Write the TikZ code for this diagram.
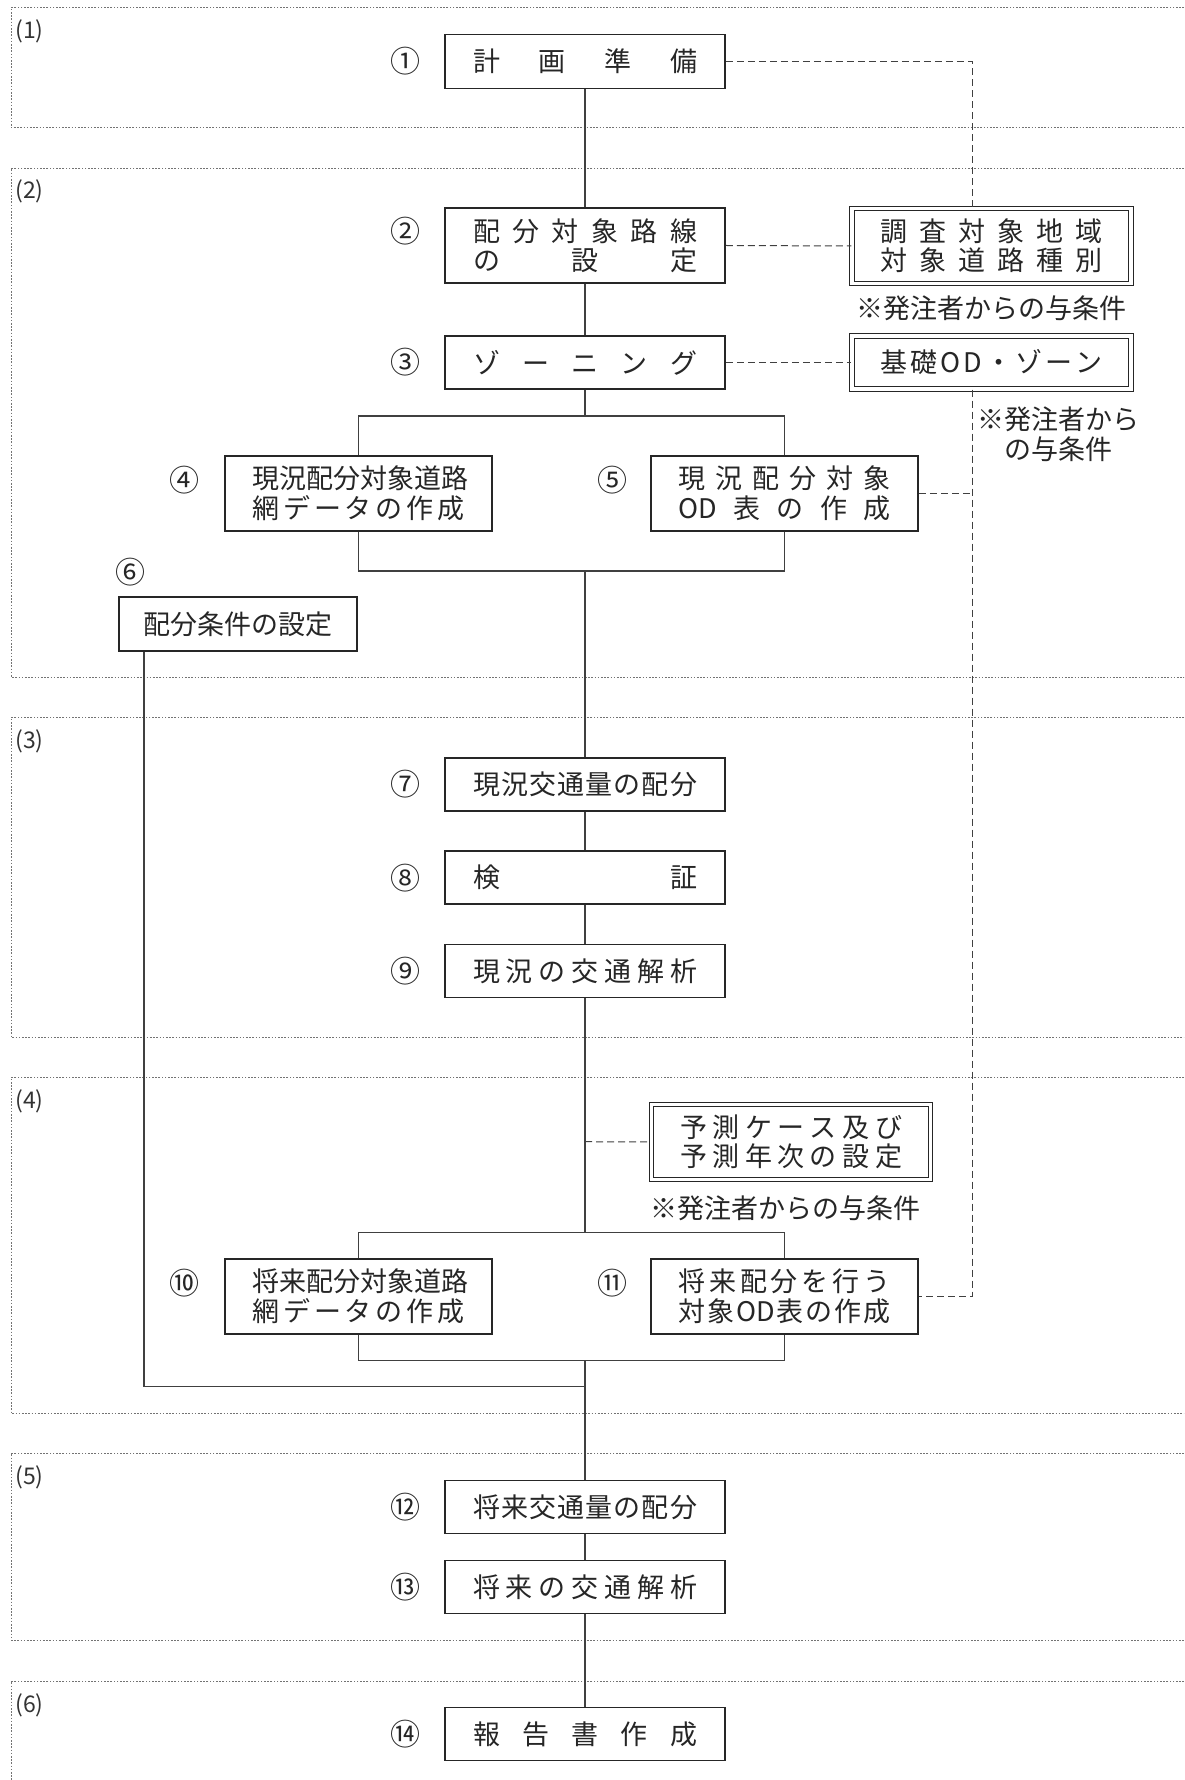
\documentclass[tikz,border=0pt]{standalone}
\usepackage{fontspec}
\setmainfont{Noto Sans CJK JP}
\newfontfamily\jp{Noto Sans CJK JP}
\newcommand\spr[2]{\makebox[#1][s]{#2}}
\begin{document}
\begin{tikzpicture}[x=0.5pt,y=-0.5pt,
  txt/.style={font=\jp\fontsize{13.5}{15}\selectfont, text=black!85},
  box/.style={txt, draw=black!85, line width=0.75pt, align=center, inner sep=0pt, minimum width=140pt, minimum height=27pt},
  wbox/.style={box, minimum width=133.5pt, minimum height=37.5pt},
  dbox/.style={txt, draw=black!85, double, double distance=1.6pt, line width=0.55pt, align=center, inner sep=0pt, minimum width=140pt, minimum height=37pt},
  num/.style={font=\jp\fontsize{15}{15}\selectfont, text=black!85, inner sep=0pt},
  sec/.style={draw=black!55, line width=0.45pt, dash pattern=on 0.8pt off 0.8pt},
  seclab/.style={font=\jp\fontsize{11.5}{12}\selectfont, text=black!80, anchor=north west, inner sep=0pt},
  conn/.style={draw=black!75, line width=0.6pt},
  dconn/.style={draw=black!75, line width=0.5pt, dash pattern=on 3.5pt off 2pt},
  note/.style={txt, align=center, inner sep=0pt}
]
\clip (0,0) rectangle (1184,1780);
\fill[white] (0,0) rectangle (1184,1780);

% section frames
\draw[sec] (1200,7.5) -- (11,7.5) -- (11,127.5) -- (1200,127.5);
\draw[sec] (1200,168) -- (11,168) -- (11,677) -- (1200,677);
\draw[sec] (1200,717.5) -- (11,717.5) -- (11,1037.5) -- (1200,1037.5);
\draw[sec] (1200,1077.5) -- (11,1077.5) -- (11,1413.5) -- (1200,1413.5);
\draw[sec] (1200,1453) -- (11,1453) -- (11,1640) -- (1200,1640);
\draw[sec] (1200,1681) -- (11,1681) -- (11,1800);
\node[seclab] (s1) at (15,19) {(1)};
\node[seclab] (s2) at (15,179) {(2)};
\node[seclab] (s3) at (15,729) {(3)};
\node[seclab] (s4) at (15,1089) {(4)};
\node[seclab] (s5) at (15,1465) {(5)};
\node[seclab] (s6) at (15,1693) {(6)};

% main boxes
\node[box] (n1) at (585,61.3) {\spr{112pt}{計\hfill 画\hfill 準\hfill 備}};
\node[box, minimum height=37.5pt] (n2) at (585,245.5) {\spr{112pt}{配\hfill 分\hfill 対\hfill 象\hfill 路\hfill 線}\\[-0.5pt]\spr{112pt}{の\hfill 設\hfill 定}};
\node[box, minimum height=26.5pt] (n3) at (585,362.5) {\spr{112pt}{ゾ\hfill ー\hfill ニ\hfill ン\hfill グ}};
\node[wbox] (n4) at (358.5,493.5) {\spr{106pt}{現\hfill 況\hfill 配\hfill 分\hfill 対\hfill 象\hfill 道\hfill 路}\\\spr{106pt}{網\hfill デ\hfill ー\hfill タ\hfill の\hfill 作\hfill 成}};
\node[wbox] (n5) at (784.5,493.5) {\spr{106pt}{現\hfill 況\hfill 配\hfill 分\hfill 対\hfill 象}\\\spr{106pt}{OD\hfill 表\hfill の\hfill 作\hfill 成}};
\node[box, minimum width=119pt] (n6) at (238,624) {配分条件の設定};
\node[box, minimum height=26.5pt] (n7) at (585,784.5) {\spr{112pt}{現\hfill 況\hfill 交\hfill 通\hfill 量\hfill の\hfill 配\hfill 分}};
\node[box, minimum height=26.5pt] (n8) at (585,877.7) {\spr{112pt}{検\hfill 証}};
\node[box, minimum height=26.5pt] (n9) at (585,970.8) {\spr{112pt}{現\hfill 況\hfill の\hfill 交\hfill 通\hfill 解\hfill 析}};
\node[wbox] (n10) at (358.5,1296.5) {\spr{106pt}{将\hfill 来\hfill 配\hfill 分\hfill 対\hfill 象\hfill 道\hfill 路}\\\spr{106pt}{網\hfill デ\hfill ー\hfill タ\hfill の\hfill 作\hfill 成}};
\node[wbox] (n11) at (784.5,1296.5) {\spr{106pt}{将\hfill 来\hfill 配\hfill 分\hfill を\hfill 行\hfill う}\\\spr{106pt}{対\hfill 象\hfill OD\hfill 表\hfill の\hfill 作\hfill 成}};
\node[box, minimum height=26.5pt] (n12) at (585,1507) {\spr{112pt}{将\hfill 来\hfill 交\hfill 通\hfill 量\hfill の\hfill 配\hfill 分}};
\node[box, minimum height=26.5pt] (n13) at (585,1587) {\spr{112pt}{将\hfill 来\hfill の\hfill 交\hfill 通\hfill 解\hfill 析}};
\node[box, minimum height=26.5pt] (n14) at (585,1734) {\spr{112pt}{報\hfill 告\hfill 書\hfill 作\hfill 成}};

% given-condition boxes
\node[dbox, minimum width=139.5pt, minimum height=37.5pt] (g1) at (991.5,246) {\spr{111pt}{調\hfill 査\hfill 対\hfill 象\hfill 地\hfill 域}\\[-0.5pt]\spr{111pt}{対\hfill 象\hfill 道\hfill 路\hfill 種\hfill 別}};
\node[dbox, minimum width=139.5pt, minimum height=26.5pt] (g2) at (991.5,362.5) {\spr{111pt}{基\hfill 礎\hfill O\hfill D\hfill ・\hfill ゾ\hfill ー\hfill ン}};
\node[dbox, minimum width=139.5pt, minimum height=37.5pt] (g3) at (791,1142) {\spr{111pt}{予\hfill 測\hfill ケ\hfill ー\hfill ス\hfill 及\hfill び}\\[-0.5pt]\spr{111pt}{予\hfill 測\hfill 年\hfill 次\hfill の\hfill 設\hfill 定}};

% notes
\node[note] (t1) at (991.5,308) {※発注者からの与条件};
\node[note] (t2) at (1058,434) {※発注者から\\の与条件};
\node[note] (t3) at (785.5,1208) {※発注者からの与条件};

% circled numbers
\node[num] (c1) at (405,61.3) {①};
\node[num] (c2) at (405,231) {②};
\node[num] (c3) at (405,362.5) {③};
\node[num] (c4) at (184,480) {④};
\node[num] (c5) at (612,480) {⑤};
\node[num] (c6) at (130,572) {⑥};
\node[num] (c7) at (405,784.5) {⑦};
\node[num] (c8) at (405,877.7) {⑧};
\node[num] (c9) at (405,970.8) {⑨};
\node[num] (c10) at (184,1283) {⑩};
\node[num] (c11) at (612,1283) {⑪};
\node[num] (c12) at (405,1507) {⑫};
\node[num] (c13) at (405,1587) {⑬};
\node[num] (c14) at (405,1734) {⑭};

% junction coordinates
\coordinate (b1) at (585,416);
\coordinate (b2) at (585,571);
\coordinate (b3) at (585,1141.7);
\coordinate (b4) at (585,1232.7);
\coordinate (b5) at (585,1360.7);
\coordinate (b6) at (585,1386.7);
\coordinate (dv) at (972,493.5);

% solid connectors
\draw[conn] (n1.south) -- (n2.north);
\draw[conn] (n2.south) -- (n3.north);
\draw[conn] (n3.south) -- (b1);
\draw[conn] (n4.north) |- (b1) -| (n5.north);
\draw[conn] (n4.south) |- (b2) -| (n5.south);
\draw[conn] (b2) -- (n7.north);
\draw[conn] (n7.south) -- (n8.north);
\draw[conn] (n8.south) -- (n9.north);
\draw[conn] (n9.south) -- (b4);
\draw[conn] (n10.north) |- (b4) -| (n11.north);
\draw[conn] (n10.south) |- (b5) -| (n11.south);
\draw[conn] (b5) -- (n12.north);
\draw[conn] (n6.south -| 144,0) |- (b6);
\draw[conn] (n12.south) -- (n13.north);
\draw[conn] (n13.south) -- (n14.north);

% dashed connectors
\draw[dconn] (n1.east) -| (g1.north -| 972,0);
\draw[dconn] (n2.east) -- (g1.west);
\draw[dconn] (n3.east) -- (g2.west);
\draw[dconn] (g2.south -| 972,0) |- (n11.east);
\draw[dconn] (n5.east) -- (dv);
\draw[dconn] (b3) -- (g3.west);
\end{tikzpicture}
\end{document}
